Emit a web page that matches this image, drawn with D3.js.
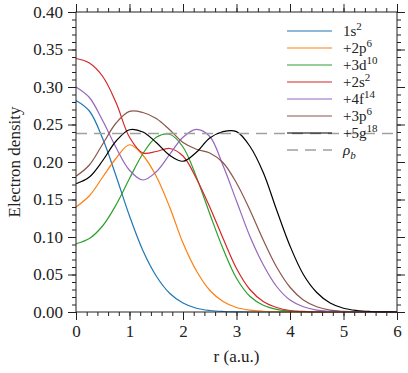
<!DOCTYPE html>
<html>
<head>
<meta charset="utf-8">
<script src="https://cdn.jsdelivr.net/npm/d3@7"></script>
<style>
  body { margin: 0; background: #fff; }
  svg { display: block; }
  text { font-family: "Liberation Serif", "DejaVu Serif", serif; fill: #222; }
</style>
</head>
<body>
<svg></svg>
<script>
const width = 408;
const height = 373;
const margin = {top: 12, right: 11, bottom: 61, left: 76};

// radial grid (a.u.)
const r = [0, 0.25, 0.5, 0.75, 1, 1.25, 1.5, 1.75, 2, 2.25, 2.5, 2.75, 3,
           3.25, 3.5, 3.75, 4, 4.25, 4.5, 4.75, 5, 5.25, 5.5, 5.75, 6];

const s1 = [0.282, 0.268, 0.231, 0.181, 0.128, 0.082, 0.048, 0.025, 0.012, 0.005, 0.002, 0.0007, 0.0002,
            0, 0, 0, 0, 0, 0, 0, 0, 0, 0, 0, 0];
const p2 = [0.140, 0.155, 0.180, 0.205, 0.223, 0.209, 0.181, 0.140, 0.092, 0.055, 0.029, 0.014, 0.006,
            0.0025, 0.001, 0.0003, 0, 0, 0, 0, 0, 0, 0, 0, 0];
const d3s = [0.091, 0.098, 0.115, 0.143, 0.178, 0.211, 0.233, 0.237, 0.220, 0.180, 0.131, 0.084, 0.045,
             0.021, 0.009, 0.0035, 0.0012, 0.0004, 0, 0, 0, 0, 0, 0, 0];
const s2 = [0.338, 0.332, 0.314, 0.279, 0.233, 0.212, 0.214, 0.218, 0.208, 0.178, 0.140, 0.098, 0.058,
            0.030, 0.014, 0.006, 0.002, 0.0008, 0, 0, 0, 0, 0, 0, 0];
const f4 = [0.300, 0.286, 0.255, 0.219, 0.189, 0.176, 0.187, 0.210, 0.233, 0.2435, 0.234, 0.195, 0.148,
            0.101, 0.063, 0.034, 0.016, 0.007, 0.0025, 0.0008, 0, 0, 0, 0, 0];
const p3 = [0.181, 0.196, 0.224, 0.252, 0.2675, 0.266, 0.258, 0.243, 0.226, 0.217, 0.212, 0.199, 0.172,
            0.136, 0.096, 0.060, 0.033, 0.016, 0.007, 0.0025, 0.0008, 0, 0, 0, 0];
const g5 = [0.171, 0.180, 0.202, 0.228, 0.243, 0.240, 0.226, 0.209, 0.201, 0.213, 0.232, 0.2405, 0.2405,
            0.221, 0.186, 0.136, 0.088, 0.050, 0.026, 0.012, 0.005, 0.002, 0.0007, 0.0002, 0];

const rhoB = 0.238;

const labels = [["1s", "2"], ["+2p", "6"], ["+3d", "10"], ["+2s", "2"],
                ["+4f", "14"], ["+3p", "6"], ["+5g", "18"]];
const colors = ["#1f77b4", "#ff7f0e", "#2ca02c", "#d62728", "#9467bd", "#8c564b", "#000000"];
const series = [s1, p2, d3s, s2, f4, p3, g5];

const xTicks = [0, 1, 2, 3, 4, 5, 6];
const yTicks = [0, 0.05, 0.10, 0.15, 0.20, 0.25, 0.30, 0.35, 0.40];

const serif = '"Liberation Serif", "DejaVu Serif", serif';

const svg = d3.select("svg")
    .attr("width", width)
    .attr("height", height);

const x = d3.scaleLinear().domain([0, 6]).range([margin.left, width - margin.right]);
const y = d3.scaleLinear().domain([0, 0.4]).range([height - margin.bottom, margin.top]);

const plotG = svg.append("g");

const line = d3.line()
    .x((d, i) => x(r[i]))
    .y(d => y(Math.max(0, d)))
    .curve(d3.curveCatmullRom.alpha(0.5));

series.forEach((vals, k) => {
    plotG.append("path")
        .datum(vals)
        .attr("fill", "none")
        .attr("stroke", colors[k])
        .attr("stroke-width", 1.2)
        .attr("d", line);
});

// bulk density reference
plotG.append("line")
    .attr("x1", x(0)).attr("x2", x(6))
    .attr("y1", y(rhoB)).attr("y2", y(rhoB))
    .attr("stroke", "#a0a0a0")
    .attr("stroke-width", 1.5)
    .attr("stroke-dasharray", "11,7");

// axes, ticks outward on every side
const minorX = d3.range(0, 6.001, 0.2);
const minorY = d3.range(0, 0.4001, 0.01);

function styleAxis(g) {
    g.attr("font-family", serif).attr("font-size", 17);
    g.select(".domain").remove();
    g.selectAll(".tick line").attr("stroke", "#222");
    g.selectAll(".tick text").attr("fill", "#222");
}

svg.append("g")
    .attr("transform", `translate(0,${y(0)})`)
    .call(d3.axisBottom(x).tickValues(minorX).tickSize(4).tickFormat(""))
    .call(styleAxis);
svg.append("g")
    .attr("transform", `translate(0,${y(0)})`)
    .call(d3.axisBottom(x).tickValues(xTicks).tickSize(8).tickPadding(5).tickFormat(d3.format("d")))
    .call(styleAxis);

svg.append("g")
    .attr("transform", `translate(0,${y(0.4)})`)
    .call(d3.axisTop(x).tickValues(minorX).tickSize(4).tickFormat(""))
    .call(styleAxis);
svg.append("g")
    .attr("transform", `translate(0,${y(0.4)})`)
    .call(d3.axisTop(x).tickValues(xTicks).tickSize(8).tickFormat(""))
    .call(styleAxis);

svg.append("g")
    .attr("transform", `translate(${x(0)},0)`)
    .call(d3.axisLeft(y).tickValues(minorY).tickSize(4).tickFormat(""))
    .call(styleAxis);
svg.append("g")
    .attr("transform", `translate(${x(0)},0)`)
    .call(d3.axisLeft(y).tickValues(yTicks).tickSize(8).tickPadding(5).tickFormat(d3.format(".2f")))
    .call(styleAxis);

svg.append("g")
    .attr("transform", `translate(${x(6)},0)`)
    .call(d3.axisRight(y).tickValues(minorY).tickSize(4).tickFormat(""))
    .call(styleAxis);
svg.append("g")
    .attr("transform", `translate(${x(6)},0)`)
    .call(d3.axisRight(y).tickValues(yTicks).tickSize(8).tickFormat(""))
    .call(styleAxis);

svg.append("rect")
    .attr("x", x(0)).attr("y", y(0.4))
    .attr("width", x(6) - x(0)).attr("height", y(0) - y(0.4))
    .attr("fill", "none")
    .attr("stroke", "#222")
    .attr("stroke-width", 1);

// axis titles
svg.append("text")
    .attr("x", (x(0) + x(6)) / 2)
    .attr("y", 362)
    .attr("text-anchor", "middle")
    .attr("font-size", 17)
    .text("r (a.u.)");

svg.append("text")
    .attr("transform", `translate(20,${(y(0) + y(0.4)) / 2}) rotate(-90)`)
    .attr("text-anchor", "middle")
    .attr("font-size", 17)
    .text("Electron density");

// legend
const legend = svg.append("g");
const ly0 = 31, lstep = 17, lx0 = 287, lx1 = 332;

labels.forEach((lab, k) => {
    const yy = ly0 + k * lstep;
    legend.append("line")
        .attr("x1", lx0).attr("x2", lx1)
        .attr("y1", yy).attr("y2", yy)
        .attr("stroke", colors[k])
        .attr("stroke-width", 1.2);
    const t = legend.append("text")
        .attr("x", lx0 + 56)
        .attr("y", yy + 5)
        .attr("font-size", 15);
    t.append("tspan").text(lab[0]);
    t.append("tspan").attr("dy", -6).attr("font-size", 11).text(lab[1]);
});

const yb = ly0 + 7 * lstep;
legend.append("line")
    .attr("x1", lx0).attr("x2", lx1)
    .attr("y1", yb).attr("y2", yb)
    .attr("stroke", "#a0a0a0")
    .attr("stroke-width", 1.5)
    .attr("stroke-dasharray", "11,7");
const tb = legend.append("text")
    .attr("x", lx0 + 56)
    .attr("y", yb + 5)
    .attr("font-size", 15);
tb.append("tspan").attr("font-style", "italic").text("ρ");
tb.append("tspan").attr("dy", 4).attr("font-size", 11).attr("font-style", "italic").text("b");
</script>
</body>
</html>
